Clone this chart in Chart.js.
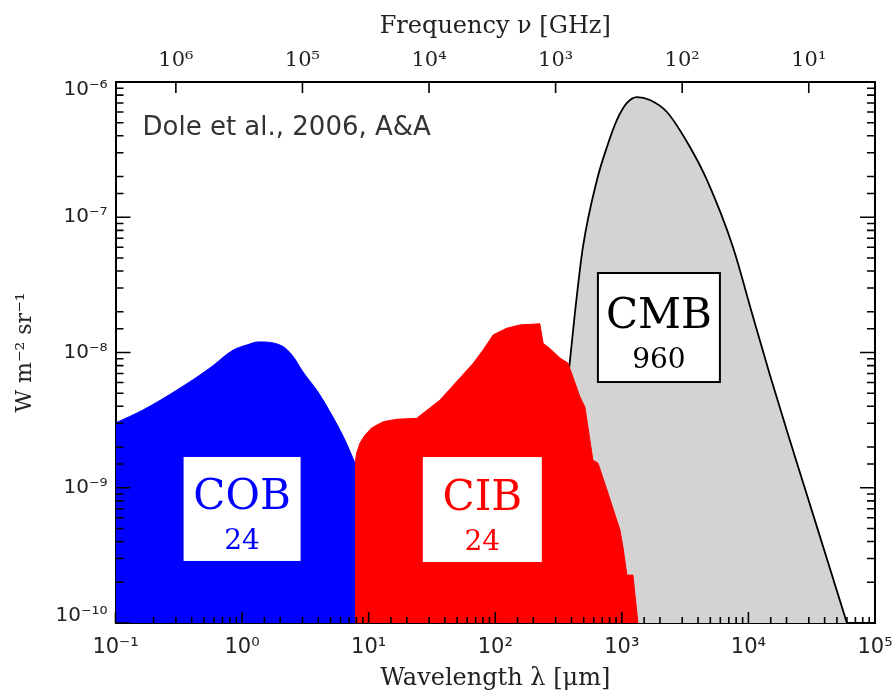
<!DOCTYPE html>
<html>
<head>
<meta charset="utf-8">
<script src="https://cdn.jsdelivr.net/npm/chart.js"></script>
<style>
  html, body { margin: 0; padding: 0; background: #fff; }
  #wrap { width: 893px; height: 695px; position: relative; }
</style>
</head>
<body>
<div id="wrap"><canvas id="bgChart"></canvas></div>
<script>
// Extragalactic background brightness (nu I_nu, W m^-2 sr^-1) against wavelength in micron
const cobWavelength = [0.1, 0.165, 0.306, 0.557, 0.847, 1.09, 1.34, 2.07, 2.48, 3.03, 3.98, 5.22, 6.50, 7.80];
const cobFlux = [3.01e-9, 3.76e-9, 5.28e-9, 7.68e-9, 1.04e-8, 1.136e-8, 1.197e-8, 1.117e-8, 9.58e-9, 7.18e-9, 5.10e-9, 3.33e-9, 2.25e-9, 1.52e-9];

const cibWavelength = [7.80, 8.04, 8.54, 9.35, 10.56, 13.04, 16.64, 23.94, 36.6, 67.0, 79.9, 96.4, 123, 157, 225, 239, 270, 324, 375, 467, 511, 591, 648, 763, 966, 1020, 1097, 1224, 1340];
const cibFlux = [1.52e-9, 1.81e-9, 2.14e-9, 2.45e-9, 2.77e-9, 3.08e-9, 3.21e-9, 3.26e-9, 4.45e-9, 8.32e-9, 1.04e-8, 1.35e-8, 1.51e-8, 1.60e-8, 1.63e-8, 1.17e-8, 1.07e-8, 9.11e-9, 8.36e-9, 4.69e-9, 3.95e-9, 1.60e-9, 1.52e-9, 9.62e-10, 4.87e-10, 3.65e-10, 2.26e-10, 2.26e-10, 1e-10];

const cmbWavelength = [270, 286, 324, 375, 426, 493, 636, 763, 915, 1097, 1316, 1667, 2271, 3451, 4699, 7544, 10660, 14790, 20510, 29510, 42460, 59980];
const cmbFlux = [1e-10, 2.92e-10, 1.52e-9, 6.26e-9, 1.96e-8, 6.03e-8, 1.886e-7, 3.31e-7, 5.24e-7, 7.0e-7, 7.74e-7, 7.36e-7, 6.0e-7, 3.31e-7, 1.886e-7, 6.03e-8, 1.96e-8, 6.82e-9, 2.50e-9, 8.40e-10, 2.83e-10, 1e-10];

// top axis: frequency in GHz
const freqTicksGHz = [1e6, 1e5, 1e4, 1e3, 1e2, 1e1];

// band names and their integrated brightness (nW m^-2 sr^-1)
const bandNames = ['COB', 'CIB', 'CMB'];
const bandTotals = ['24', '24', '960'];

const C_UM_GHZ = 2.998e5; // lambda[um] * nu[GHz]

const SUP = { '-': '\u207b', '0': '\u2070', '1': '\u00b9', '2': '\u00b2', '3': '\u00b3', '4': '\u2074', '5': '\u2075', '6': '\u2076', '7': '\u2077', '8': '\u2078', '9': '\u2079' };
function pow10Label(e) {
    return '10' + String(e).split('').map(c => SUP[c]).join('');
}
function isDecade(v) {
    const e = Math.log10(v);
    return Math.abs(e - Math.round(e)) < 1e-6;
}
function decadeTick(v) {
    return isDecade(v) ? pow10Label(Math.round(Math.log10(v))) : '';
}
// end labels of the y axis sit just inside the frame
function yDecadeTick(v, i, ticks) {
    const s = decadeTick(v);
    if (!s) return s;
    if (i === ticks.length - 1) return ['', s];
    if (i === 0) return [s, ''];
    return s;
}

const toPoints = (xs, ys) => xs.map((x, i) => ({ x: x, y: ys[i] }));

const SERIF = 'DejaVu Serif';
const SANS = 'DejaVu Sans';

// ticks pointing into the plot on all four sides
const inwardTicks = {
    id: 'inwardTicks',
    afterDatasetsDraw(chart) {
        const { ctx, chartArea: a, scales } = chart;
        ctx.save();
        ctx.strokeStyle = '#000';
        ctx.lineWidth = 1.6;
        ctx.beginPath();
        scales.x.ticks.forEach(t => {
            const px = scales.x.getPixelForValue(t.value);
            const len = isDecade(t.value) ? 11 : 6;
            ctx.moveTo(px, a.bottom);
            ctx.lineTo(px, a.bottom - len);
        });
        scales.xTop.ticks.forEach(t => {
            const px = scales.xTop.getPixelForValue(t.value);
            ctx.moveTo(px, a.top);
            ctx.lineTo(px, a.top + 11);
        });
        scales.y.ticks.forEach(t => {
            const py = scales.y.getPixelForValue(t.value);
            const len = isDecade(t.value) ? 15 : 8;
            ctx.moveTo(a.left, py);
            ctx.lineTo(a.left + len, py);
            ctx.moveTo(a.right, py);
            ctx.lineTo(a.right - len, py);
        });
        ctx.stroke();
        ctx.restore();
    }
};

// labelled boxes for each background and the reference note
const bandBoxes = {
    id: 'bandBoxes',
    afterDatasetsDraw(chart, args, opts) {
        const { ctx, chartArea: a, scales: { x, y } } = chart;
        ctx.save();
        opts.boxes.forEach((b, i) => {
            const cx = x.getPixelForValue(b.at[0]);
            const cy = y.getPixelForValue(b.at[1]);
            const l = cx - b.w / 2, t = cy - b.h / 2;
            ctx.fillStyle = '#fff';
            ctx.fillRect(l, t, b.w, b.h);
            if (b.frame) {
                ctx.strokeStyle = '#000';
                ctx.lineWidth = 2;
                ctx.strokeRect(l, t, b.w, b.h);
            }
            ctx.fillStyle = b.color;
            ctx.textAlign = 'center';
            ctx.textBaseline = 'alphabetic';
            ctx.font = '42px "' + SERIF + '"';
            ctx.fillText(bandNames[i], cx, cy);
            ctx.font = '28px "' + SERIF + '"';
            ctx.fillText(bandTotals[i], cx, cy + 40);
        });
        ctx.fillStyle = '#333';
        ctx.textAlign = 'left';
        ctx.font = '26px "' + SANS + '"';
        ctx.fillText('Dole et al., 2006, A&A', a.left + 27, a.top + 53);
        ctx.restore();
    }
};

const axisBorder = { display: true, color: '#000', width: 2 };
const noGrid = { display: false, drawTicks: false };

new Chart(document.getElementById('bgChart'), {
    type: 'line',
    data: {
        datasets: [
            {
                label: 'COB',
                data: toPoints(cobWavelength, cobFlux),
                borderColor: '#0000ff',
                backgroundColor: '#0000ff',
                borderWidth: 1,
                fill: 'start',
                cubicInterpolationMode: 'monotone',
                pointRadius: 0,
                order: 0
            },
            {
                label: 'CIB',
                data: toPoints(cibWavelength, cibFlux),
                borderColor: '#ff0000',
                backgroundColor: '#ff0000',
                borderWidth: 1,
                fill: 'start',
                tension: 0,
                pointRadius: 0,
                order: 1
            },
            {
                label: 'CMB',
                data: toPoints(cmbWavelength, cmbFlux),
                borderColor: '#000',
                backgroundColor: '#d3d3d3',
                borderWidth: 1.8,
                fill: 'start',
                cubicInterpolationMode: 'monotone',
                pointRadius: 0,
                order: 2
            }
        ]
    },
    options: {
        responsive: true,
        maintainAspectRatio: false,
        animation: false,
        layout: { padding: 0 },
        plugins: {
            legend: { display: false },
            tooltip: { enabled: false },
            bandBoxes: {
                boxes: [
                    { at: [1.0, 6.97e-10], w: 117, h: 104, color: '#0000ff', frame: false },
                    { at: [79, 6.9e-10], w: 119, h: 105, color: '#ff0000', frame: false },
                    { at: [1963, 1.53e-8], w: 122, h: 109, color: '#000', frame: true }
                ]
            }
        },
        scales: {
            x: {
                type: 'logarithmic',
                position: 'bottom',
                min: 0.1,
                max: 1e5,
                z: 1,
                grid: noGrid,
                border: axisBorder,
                ticks: {
                    autoSkip: false,
                    maxRotation: 0,
                    padding: 12,
                    color: '#222',
                    font: { family: SANS, size: 21 },
                    callback: v => decadeTick(v)
                },
                title: {
                    display: true,
                    text: 'Wavelength \u03bb [\u03bcm]',
                    color: '#222',
                    font: { family: SERIF, size: 24 },
                    padding: { top: 0, bottom: 2 }
                },
                afterFit: s => { s.height = 72; s.paddingLeft = 0; s.paddingRight = 0; }
            },
            xTop: {
                type: 'logarithmic',
                position: 'top',
                min: 0.1,
                max: 1e5,
                z: 1,
                grid: noGrid,
                border: axisBorder,
                afterBuildTicks: s => {
                    s.ticks = freqTicksGHz.map(f => ({ value: C_UM_GHZ / f, major: true }));
                },
                ticks: {
                    autoSkip: false,
                    maxRotation: 0,
                    padding: 9,
                    color: '#222',
                    font: { family: SERIF, size: 21 },
                    callback: (v, i) => pow10Label(Math.round(Math.log10(freqTicksGHz[i])))
                },
                title: {
                    display: true,
                    text: 'Frequency \u03bd [GHz]',
                    color: '#222',
                    font: { family: SERIF, size: 24 },
                    padding: { top: 12, bottom: 0 }
                },
                afterFit: s => { s.height = 82; s.paddingLeft = 0; s.paddingRight = 0; }
            },
            y: {
                type: 'logarithmic',
                position: 'left',
                min: 1e-10,
                max: 1e-6,
                z: 1,
                grid: noGrid,
                border: axisBorder,
                ticks: {
                    autoSkip: false,
                    padding: 8,
                    color: '#222',
                    font: { family: SANS, size: 20, lineHeight: 0.75 },
                    callback: yDecadeTick
                },
                title: {
                    display: true,
                    text: 'W m\u207b\u00b2 sr\u207b\u00b9',
                    color: '#222',
                    font: { family: SERIF, size: 22 },
                    padding: { top: 12, bottom: 0 }
                },
                afterFit: s => { s.width = 115.5; s.paddingTop = 0; s.paddingBottom = 0; }
            },
            yRight: {
                type: 'logarithmic',
                position: 'right',
                min: 1e-10,
                max: 1e-6,
                z: 1,
                grid: noGrid,
                border: axisBorder,
                ticks: { display: false },
                afterFit: s => { s.width = 18; s.paddingTop = 0; s.paddingBottom = 0; }
            }
        }
    },
    plugins: [inwardTicks, bandBoxes]
});
</script>
</body>
</html>
